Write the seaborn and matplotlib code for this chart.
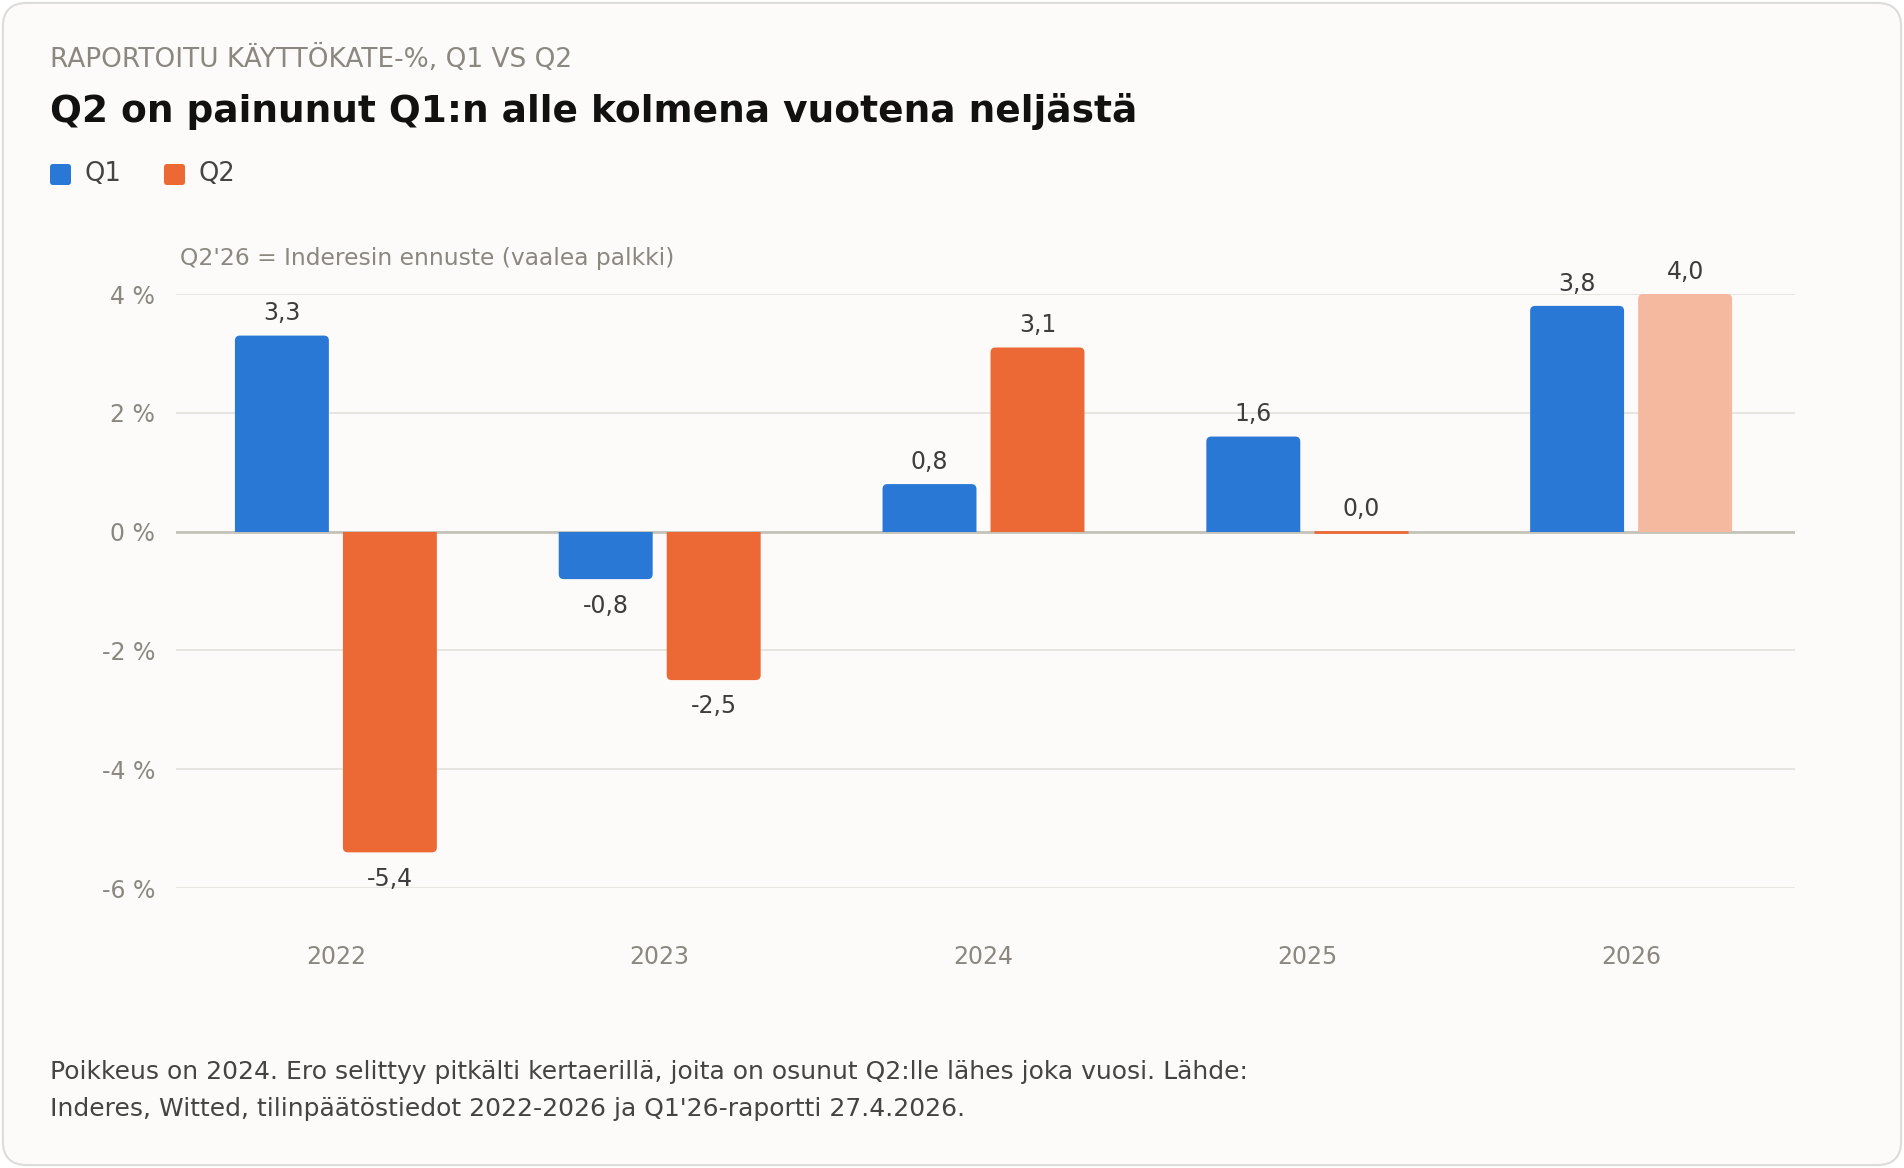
import pandas as pd
import seaborn as sns
import matplotlib.pyplot as plt
from matplotlib.patches import FancyBboxPatch, Rectangle

# data
years = ['2022', '2023', '2024', '2025', '2026']
q1_values = [3.3, -0.8, 0.8, 1.6, 3.8]
q2_values = [-5.4, -2.5, 3.1, 0.0, 4.0]
y_ticks = [-6, -4, -2, 0, 2, 4]

BLUE = '#2A78D6'
ORANGE = '#EC6935'
LIGHT = '#F5B9A0'
GRAY = '#8C8780'
DARK = '#3D3D3D'

df = pd.DataFrame({
    'Vuosi': years * 2,
    'Kvartaali': ['Q1'] * len(years) + ['Q2'] * len(years),
    'Arvo': q1_values + q2_values,
})

sns.set_theme(style='white')
plt.rcParams['font.family'] = ['DejaVu Sans']

W, H = 1904, 1168
fig = plt.figure(figsize=(W / 100, H / 100), dpi=100, facecolor='white')

# card background
card = FancyBboxPatch((0.0015, 0.0025), 0.997, 0.995, transform=fig.transFigure,
                      boxstyle='round,pad=0,rounding_size=0.0126', mutation_aspect=W / H,
                      fc='#FCFBF9', ec='#DCDCDC', lw=1.5, zorder=-5)
fig.patches.append(card)

AX_L, AX_R, AX_T, AX_B = 176, 1795, 294, 888
ax = fig.add_axes([AX_L / W, 1 - AX_B / H, (AX_R - AX_L) / W, (AX_B - AX_T) / H])
ax.set_facecolor('none')

sns.barplot(data=df, x='Vuosi', y='Arvo', hue='Kvartaali', order=years,
            palette={'Q1': BLUE, 'Q2': ORANGE}, saturation=1, width=0.667, gap=0.13,
            legend=False, ax=ax, zorder=3)

shift = 2 / ((AX_R - AX_L) / 5)
ax.set_xlim(-0.5 + shift, 4.5 + shift)
ax.set_ylim(-6, 4)

# forecast bar lighter
ax.containers[1][4].set_facecolor(LIGHT)

# rounded outer corners (square at the zero line via clipping)
xpp = 5 / (AX_R - AX_L)
ypp = 10 / (AX_B - AX_T)
r = 5 * xpp
ry = 6 * ypp
for patch in list(ax.patches):
    x, y = patch.get_x(), patch.get_y()
    w, h = patch.get_width(), patch.get_height()
    fc = patch.get_facecolor()
    if abs(h) < 1e-9:
        patch.set_edgecolor(fc)
        patch.set_linewidth(2)
        continue
    top = y + h
    if top > y:
        rb = FancyBboxPatch((x, y - ry), w, h + ry,
                            boxstyle=f'round,pad=0,rounding_size={r}',
                            mutation_aspect=ypp / xpp, fc=fc, ec='none', zorder=3)
        clip = Rectangle((x - 1, y), w + 2, 100, transform=ax.transData)
    else:
        rb = FancyBboxPatch((x, top), w, -h + ry,
                            boxstyle=f'round,pad=0,rounding_size={r}',
                            mutation_aspect=ypp / xpp, fc=fc, ec='none', zorder=3)
        clip = Rectangle((x - 1, y - 100), w + 2, 100, transform=ax.transData)
    ax.add_patch(rb)
    rb.set_clip_path(clip)
    patch.set_visible(False)

# value labels
for cont, vals in zip(ax.containers, [q1_values, q2_values]):
    for bar, v in zip(cont, vals):
        cx = bar.get_x() + bar.get_width() / 2
        off = 16 if v >= 0 else -19
        ax.annotate(f'{v:.1f}'.replace('.', ','), (cx, v), xytext=(0, off),
                    textcoords='offset points', ha='center', va='center',
                    fontsize=17, color=DARK, zorder=5)

ax.set_yticks(y_ticks)
ax.set_yticklabels([f'{t} %' for t in y_ticks])
ax.grid(axis='y', color='#E3E1DC', lw=1.2, zorder=0)
ax.axhline(0, color='#C4C2B9', lw=2, zorder=2)
for s in ax.spines.values():
    s.set_visible(False)
ax.tick_params(axis='y', length=0, pad=15, labelsize=17, labelcolor=GRAY)
ax.tick_params(axis='x', length=0, pad=41, labelsize=17, labelcolor=GRAY)
ax.set_xlabel('')
ax.set_ylabel('')

# texts
fig.text(50 / W, 1 - 59 / H, 'RAPORTOITU KÄYTTÖKATE-%, Q1 VS Q2', fontsize=19,
         color=GRAY, va='center', ha='left')
fig.text(50 / W, 1 - 111 / H, 'Q2 on painunut Q1:n alle kolmena vuotena neljästä',
         fontsize=27, fontweight='bold', color='#111111', va='center', ha='left')

# legend
for i, (lab, col) in enumerate([('Q1', BLUE), ('Q2', ORANGE)]):
    x0 = 50 + i * 114
    fig.patches.append(FancyBboxPatch((x0 / W, 1 - 185 / H), 21 / W, 21 / H,
                                      transform=fig.transFigure,
                                      boxstyle='round,pad=0,rounding_size=0.0015',
                                      mutation_aspect=W / H, fc=col, ec='none'))
    fig.text((x0 + 35) / W, 1 - 174 / H, lab, fontsize=18.5, color='#444444',
             va='center', ha='left')

fig.text(180 / W, 1 - 259 / H, "Q2'26 = Inderesin ennuste (vaalea palkki)",
         fontsize=16.8, color=GRAY, va='center', ha='left')

fig.text(50 / W, 1 - 1072 / H,
         'Poikkeus on 2024. Ero selittyy pitkälti kertaerillä, joita on osunut Q2:lle lähes joka vuosi. Lähde:',
         fontsize=18, color='#444444', va='center', ha='left')
fig.text(50 / W, 1 - 1109 / H,
         "Inderes, Witted, tilinpäätöstiedot 2022-2026 ja Q1'26-raportti 27.4.2026.",
         fontsize=18, color='#444444', va='center', ha='left')

fig.savefig('out.png', dpi=100, facecolor='white')
